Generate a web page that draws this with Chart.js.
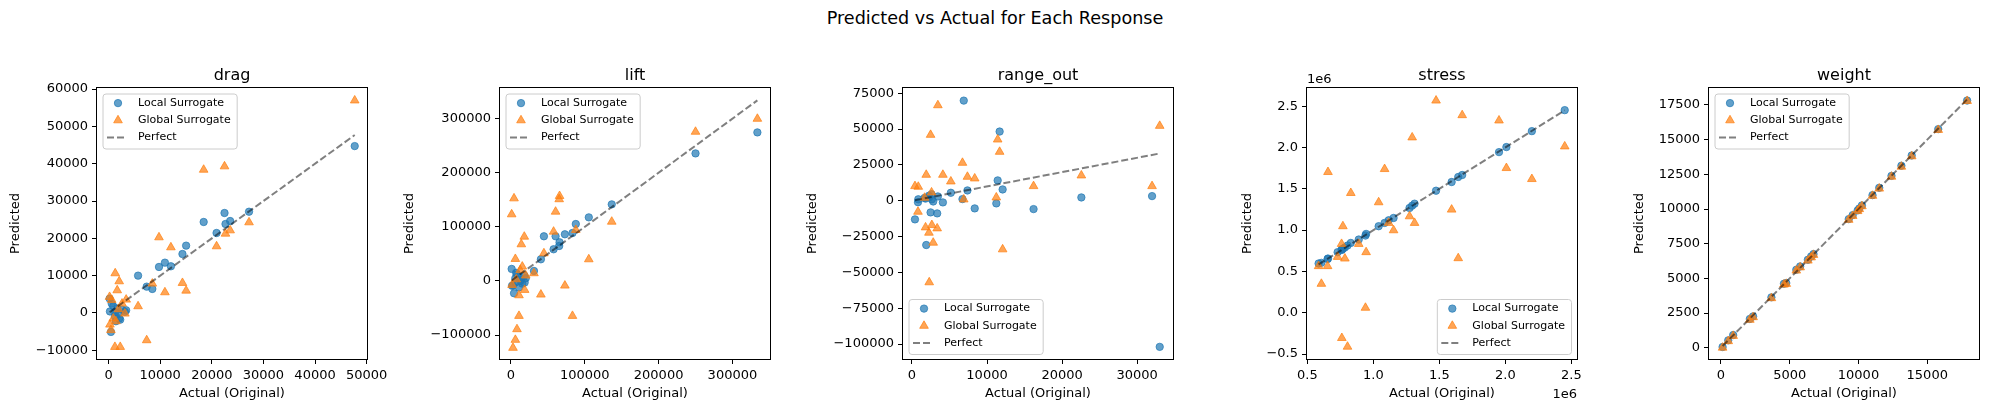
<!DOCTYPE html>
<html>
<head>
<meta charset="utf-8">
<script src="https://cdn.jsdelivr.net/npm/chart.js@4.4.1/dist/chart.umd.min.js"></script>
<style>
  html, body { margin: 0; padding: 0; background: #fff; }
  body { width: 1990px; height: 413px; position: relative; overflow: hidden; font-family: 'DejaVu Sans', sans-serif; }
  #suptitle { position: absolute; left: 0; top: 8px; width: 1990px; text-align: center; font-size: 17.6px; line-height: 20px; color: #000; }
  canvas { position: absolute; top: 0; }
</style>
</head>
<body>
<div id="suptitle">Predicted vs Actual for Each Response</div>
<script>
// ---- data ----
const dragActual = [47690, 27210, 23550, 22460, 22650, 20920, 18420, 15020, 14310, 12070, 10910, 9760, 5710, 7380, 8470, 3400, 3150, 450, 190, 1280, 2050, 1670, 1220, 2250, 260, 1410, 600, 900, 2600, 1900];
const dragLocal = [44730, 27140, 24640, 26790, 23840, 21430, 24380, 18040, 15800, 12500, 13480, 12320, 10000, 7050, 6430, 710, 300, -5090, 3840, 200, -1500, 1200, -900, -1800, 400, -2230, 2500, 1800, 900, -300];
const dragGlobal = [56960, 24290, 22140, 39290, 21250, 17860, 38390, 5980, 8040, 17590, 5540, 20270, 1790, -7320, 7860, 3570, -180, -4600, 4290, 10630, 8480, 6070, -9110, -9110, -3130, -2230, 3500, -1500, 2500, 1000];
const dragXTicks = [0, 10000, 20000, 30000, 40000, 50000];
const dragYTicks = [-10000, 0, 10000, 20000, 30000, 40000, 50000, 60000];

const liftActual = [333800, 250000, 136500, 105400, 87800, 83300, 73000, 60400, 44600, 65800, 65300, 57700, 40500, 31100, 900, 4100, 5900, 14000, 18000, 15300, 10800, 8100, 5900, 2700, 18500, 10800, 1400, 12500, 20000, 7000];
const liftLocal = [274500, 235700, 141500, 117500, 105200, 88600, 86200, 82500, 82500, 71400, 64600, 58500, 40000, 18500, 22200, -22800, 5000, 2000, 10000, -5000, -12000, 12000, -3000, -8000, -3000, 8000, -9000, 0, 5000, 15000];
const liftGlobal = [299700, 275700, 109500, 40000, 94200, -64600, -8600, 128000, 51100, 157000, 151000, 91100, -25200, 14200, 123100, 152600, 40600, 67700, 81800, 26500, -64600, -89200, -108900, -123700, -16600, -26500, -7400, 20000, 10000, 3000];
const liftXTicks = [0, 100000, 200000, 300000];
const liftYTicks = [-100000, 0, 100000, 200000, 300000];

const rangeActual = [6900, 11680, 11420, 12080, 11240, 8360, 7390, 6730, 5180, 16200, 22570, 31990, 33010, 4120, 3360, 2480, 1900, 400, 840, 800, 2610, 2650, 3450, 1680, 1810, 2260, 2830, 2300];
const rangeLocal = [69900, 48300, 14200, 7900, -1860, -5340, 7200, 1160, 5580, -5810, 2320, 3250, -101980, -1160, -8830, -8130, -30900, -13000, 1000, -1000, 4500, 1000, 3000, 2000, 1500, 3500, -500, 2500];
const rangeGlobal = [930, 34150, 42740, -33920, 2320, 15560, 16730, 26480, 13470, 10220, 17650, 10220, 52270, 18120, -19280, 46000, 18120, 10220, 9760, -7670, 5810, -16960, 66670, 2090, -18580, -22300, -29270, -56910];
const rangeXTicks = [0, 10000, 20000, 30000];
const rangeYTicks = [-100000, -75000, -50000, -25000, 0, 25000, 50000, 75000];

const stressActual = [2450000, 2201000, 2008000, 1952000, 1673000, 1643000, 1593000, 1475000, 1312000, 1294000, 1274000, 1153000, 1116000, 1085000, 1040000, 945000, 940000, 889000, 829000, 804000, 769000, 761000, 759000, 729000, 784000, 656000, 653000, 606000, 585000];
const stressLocal = [2452000, 2198000, 2005000, 1944000, 1667000, 1643000, 1582000, 1477000, 1320000, 1296000, 1268000, 1147000, 1119000, 1087000, 1047000, 954000, 934000, 886000, 845000, 813000, 773000, 765000, 760000, 733000, 790000, 656000, 650000, 604000, 596000];
const stressGlobal = [2013000, 1618000, 1751000, 2327000, 2391000, 660000, 1248000, 2568000, 1087000, 2122000, 1167000, 998000, 1087000, 1739000, 1337000, 733000, 60000, 833000, 1449000, -411000, 1047000, -306000, 833000, 676000, 656000, 1703000, 564000, 350000, 564000];
const stressXTicks = [500000, 1000000, 1500000, 2000000, 2500000];
const stressYTicks = [-500000, 0, 500000, 1000000, 1500000, 2000000, 2500000];

const weightActual = [17900, 15800, 13870, 13120, 12400, 11510, 11020, 10250, 10060, 9940, 9580, 9290, 6730, 6560, 6320, 5760, 5480, 4750, 4580, 3670, 2340, 2100, 890, 530, 120];
const weightLocal = [17820, 15760, 13860, 13120, 12390, 11530, 11000, 10260, 10040, 9900, 9560, 9270, 6750, 6580, 6340, 5860, 5620, 4660, 4610, 3630, 2260, 2070, 910, 530, 50];
const weightGlobal = [17790, 15700, 13800, 13050, 12330, 11470, 10950, 10200, 9990, 9850, 9500, 9220, 6690, 6510, 6280, 5790, 5560, 4600, 4550, 3570, 2200, 2010, 850, 470, 0];
const weightXTicks = [0, 5000, 10000, 15000];
const weightYTicks = [0, 2500, 5000, 7500, 10000, 12500, 15000, 17500];

// ---- styling ----
const FONT = "'DejaVu Sans', sans-serif";
const BLUE = 'rgba(31,119,180,0.7)';
const ORANGE = 'rgba(255,127,14,0.7)';
const PERFECT = 'rgba(0,0,0,0.5)';
const PLOT_W = 270;

const panels = [
  { title: 'drag', actual: dragActual, local: dragLocal, global: dragGlobal, xTicks: dragXTicks, yTicks: dragYTicks,
    xMin: -2250, xMax: 50070, yMin: -12350, yMax: 60300, legend: 'upper left', plotLeft: 97, yAxisW: 93 },
  { title: 'lift', actual: liftActual, local: liftLocal, global: liftGlobal, xTicks: liftXTicks, yTicks: liftYTicks,
    xMin: -14900, xMax: 350900, yMin: -144300, yMax: 356600, legend: 'upper left', plotLeft: 500, yAxisW: 102 },
  { title: 'range_out', actual: rangeActual, local: rangeLocal, global: rangeGlobal, xTicks: rangeXTicks, yTicks: rangeYTicks,
    xMin: -1195, xMax: 34780, yMin: -110450, yMax: 78700, legend: 'lower left', plotLeft: 903, yAxisW: 102 },
  { title: 'stress', actual: stressActual, local: stressLocal, global: stressGlobal, xTicks: stressXTicks, yTicks: stressYTicks,
    xMin: 497000, xMax: 2543000, yMin: -560000, yMax: 2720000, legend: 'lower right', plotLeft: 1307, yAxisW: 71, sci: 1e6 },
  { title: 'weight', actual: weightActual, local: weightLocal, global: weightGlobal, xTicks: weightXTicks, yTicks: weightYTicks,
    xMin: -868, xMax: 18763, yMin: -816, yMax: 18725, legend: 'upper left', plotLeft: 1709, yAxisW: 81 },
];

function tickText(v, sci) {
  const s = sci ? (v / sci).toFixed(1) : String(v);
  return s.replace('-', '\u2212');
}

function drawMarker(ctx, style, x, y, color) {
  ctx.fillStyle = color;
  ctx.strokeStyle = color;
  ctx.lineWidth = 1;
  ctx.beginPath();
  if (style === 'triangle') {
    const r = 5;
    ctx.moveTo(x, y - r);
    ctx.lineTo(x + 0.866 * r, y + 0.5 * r);
    ctx.lineTo(x - 0.866 * r, y + 0.5 * r);
    ctx.closePath();
  } else {
    ctx.arc(x, y, 3.7, 0, Math.PI * 2);
  }
  ctx.fill();
  ctx.stroke();
}

// frame, subplot title, offset text and the in-axes legend
const panelDecor = {
  id: 'panelDecor',
  afterDatasetsDraw(chart, args, opts) {
    const { ctx, chartArea: a } = chart;
    ctx.save();
    ctx.strokeStyle = '#000';
    ctx.lineWidth = 1;
    ctx.strokeRect(a.left - 0.5, a.top - 0.5, a.right - a.left + 1, a.bottom - a.top + 1);

    ctx.fillStyle = '#000';
    ctx.textBaseline = 'alphabetic';
    ctx.textAlign = 'center';
    ctx.font = `16px ${FONT}`;
    ctx.fillText(opts.title, (a.left + a.right) / 2, a.top - 8);

    if (opts.sci) {
      ctx.font = `13px ${FONT}`;
      ctx.textAlign = 'left';
      ctx.fillText('1e6', a.left, a.top - 5);
      ctx.textAlign = 'right';
      ctx.fillText('1e6', a.right, 398);
    }

    // legend box
    ctx.font = `11px ${FONT}`;
    const sets = chart.data.datasets;
    const textW = Math.max(...sets.map(d => ctx.measureText(d.label).width));
    const w = 35.5 + textW + 6;
    const h = 55;
    const corner = opts.legend;
    const x = corner.includes('right') ? a.right - 6 - w : a.left + 5.5;
    const y = corner.includes('lower') ? a.bottom - 5 - h : a.top + 5.5;
    ctx.beginPath();
    ctx.roundRect(x + 0.5, y + 0.5, w, h, 3);
    ctx.fillStyle = 'rgba(255,255,255,0.8)';
    ctx.fill();
    ctx.strokeStyle = '#cccccc';
    ctx.lineWidth = 1;
    ctx.stroke();

    sets.forEach((d, i) => {
      const ry = y + 9.6 + i * 17.2;
      if (d.showLine) {
        ctx.save();
        ctx.strokeStyle = PERFECT;
        ctx.lineWidth = 2;
        ctx.setLineDash([7, 3]);
        ctx.beginPath();
        ctx.moveTo(x + 4.5, ry);
        ctx.lineTo(x + 24, ry);
        ctx.stroke();
        ctx.restore();
      } else {
        drawMarker(ctx, d.pointStyle, x + 15.5, ry, d.backgroundColor);
      }
      ctx.fillStyle = '#000';
      ctx.textAlign = 'left';
      ctx.textBaseline = 'middle';
      ctx.fillText(d.label, x + 35.5, ry);
    });
    ctx.restore();
  }
};

function axis(ticks, min, max, title, sci, horizontal, size) {
  return {
    type: 'linear',
    position: horizontal ? 'bottom' : 'left',
    min: min,
    max: max,
    bounds: 'data',
    afterBuildTicks: (scale) => { scale.ticks = ticks.map(v => ({ value: v })); },
    afterFit: (scale) => { if (horizontal) scale.height = size; else scale.width = size; },
    border: { display: false },
    grid: { drawOnChartArea: false, drawTicks: true, tickLength: 5, tickWidth: 1, tickColor: '#000' },
    ticks: {
      autoSkip: false, maxRotation: 0, minRotation: 0, padding: 4, color: '#000',
      font: { family: FONT, size: 13 },
      callback: (v) => tickText(v, sci),
    },
    title: { display: true, text: title, color: '#000', font: { family: FONT, size: 13 }, padding: { top: 4, bottom: 4 } },
  };
}

panels.forEach((p) => {
  const canvas = document.createElement('canvas');
  const rightPad = Math.min(32, 1990 - (p.plotLeft + PLOT_W));
  const cw = p.yAxisW + PLOT_W + rightPad;
  canvas.width = cw;
  canvas.height = 413;
  canvas.style.width = cw + 'px';
  canvas.style.height = '413px';
  canvas.style.left = (p.plotLeft - p.yAxisW) + 'px';
  document.body.appendChild(canvas);

  const lo = Math.min(...p.actual);
  const hi = Math.max(...p.actual);

  new Chart(canvas, {
    type: 'scatter',
    data: {
      datasets: [
        {
          label: 'Local Surrogate',
          data: p.actual.map((x, i) => ({ x: x, y: p.local[i] })),
          pointStyle: 'circle', pointRadius: 3.7, borderWidth: 1,
          backgroundColor: BLUE, borderColor: BLUE, order: 3,
        },
        {
          label: 'Global Surrogate',
          data: p.actual.map((x, i) => ({ x: x, y: p.global[i] })),
          pointStyle: 'triangle', pointRadius: 5, borderWidth: 1,
          backgroundColor: ORANGE, borderColor: ORANGE, order: 2,
        },
        {
          label: 'Perfect',
          data: [{ x: lo, y: lo }, { x: hi, y: hi }],
          showLine: true, pointRadius: 0, borderColor: PERFECT, borderWidth: 2,
          borderDash: [7, 3], fill: false, order: 1,
        },
      ],
    },
    options: {
      responsive: false,
      animation: false,
      devicePixelRatio: 1,
      events: [],
      layout: { padding: { left: 0, top: 88, right: rightPad, bottom: 8 } },
      plugins: {
        legend: { display: false },
        tooltip: { enabled: false },
        panelDecor: { title: p.title, legend: p.legend, sci: p.sci },
      },
      scales: {
        x: axis(p.xTicks, p.xMin, p.xMax, 'Actual (Original)', p.sci, true, 46),
        y: axis(p.yTicks, p.yMin, p.yMax, 'Predicted', p.sci, false, p.yAxisW),
      },
    },
    plugins: [panelDecor],
  });
});
</script>
</body>
</html>
